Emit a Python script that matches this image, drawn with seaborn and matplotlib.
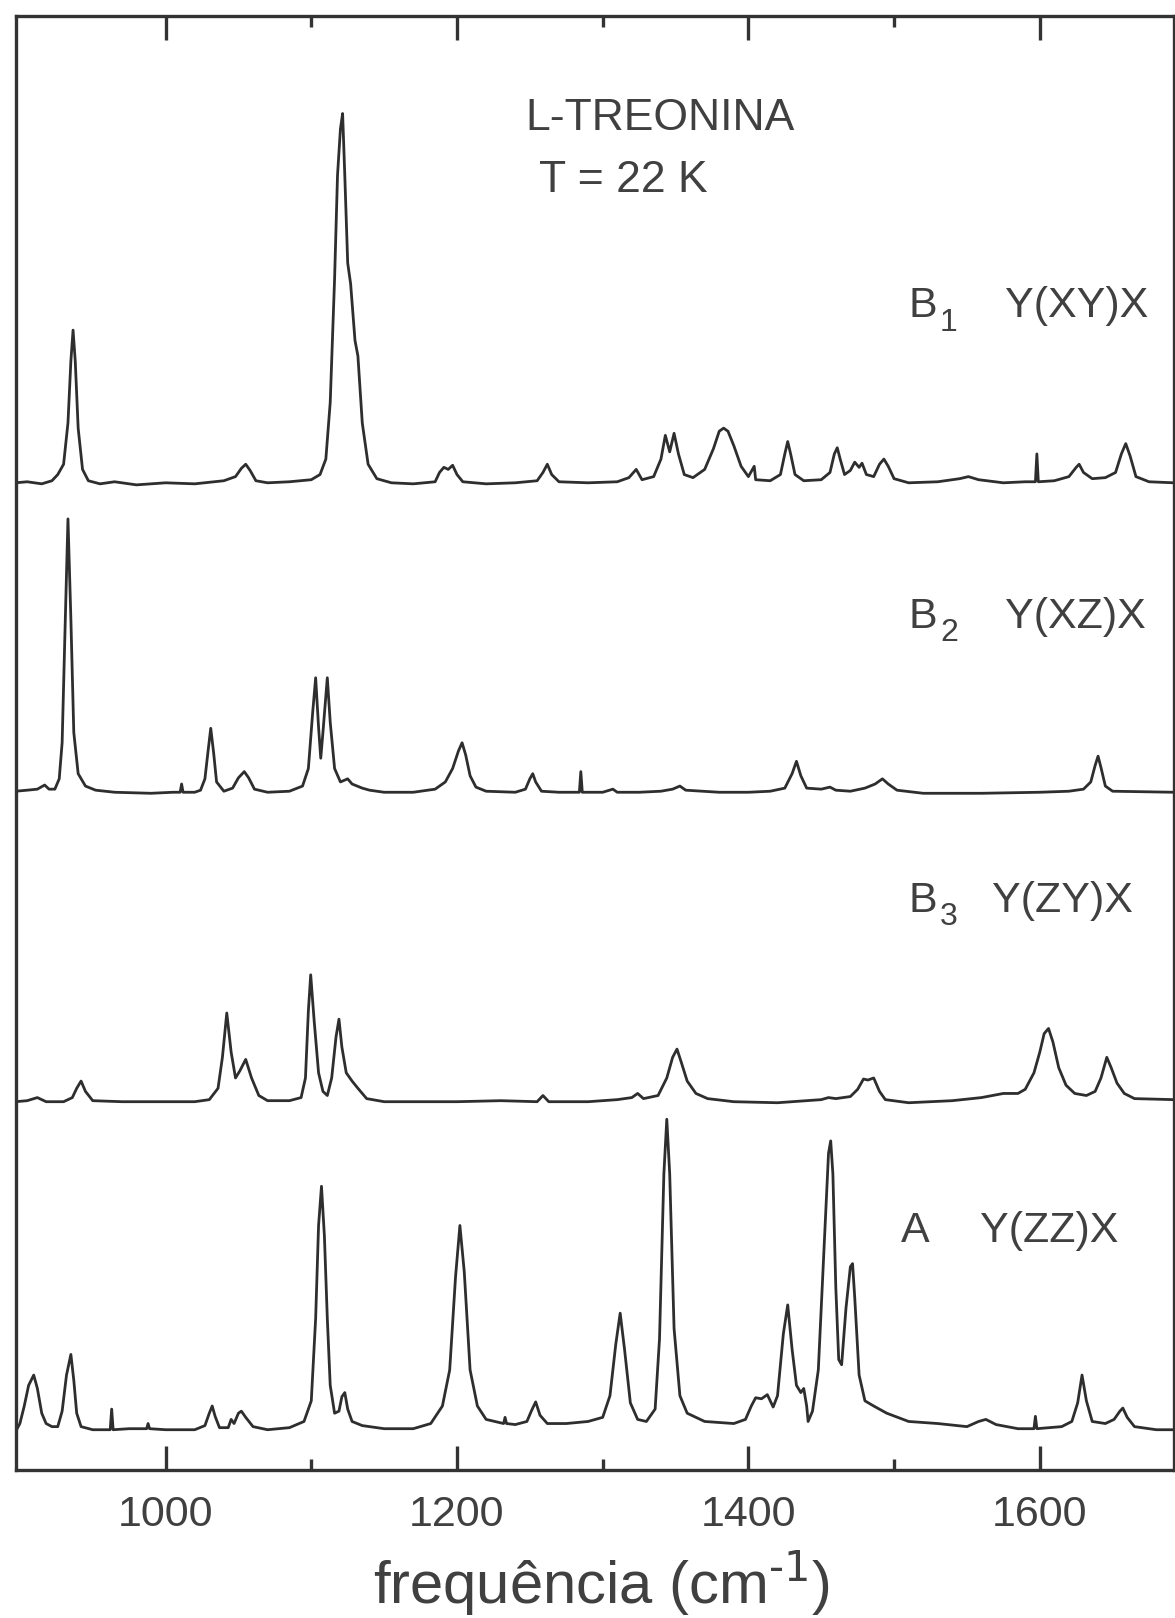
import matplotlib
matplotlib.use("Agg")
import matplotlib.pyplot as plt
import seaborn as sns
import pandas as pd
from matplotlib.ticker import FixedLocator

# Raman spectra of L-threonine at 22 K, four polarisations.
# frequencies (cm-1) and intensities above each trace's own baseline (arb. units)
B1_FREQ = [897, 905, 915, 922, 926, 930, 933, 935, 936.5, 938, 940, 943, 947, 955, 965, 980,
           1000, 1020, 1040, 1048, 1052, 1055, 1058, 1062, 1070, 1085, 1100, 1106, 1110, 1113,
           1116, 1118, 1120, 1121.5, 1123, 1125, 1127, 1130, 1132, 1135, 1139, 1145, 1155, 1170,
           1185, 1188, 1191, 1194, 1197, 1200, 1204, 1220, 1240, 1255, 1259, 1262, 1265, 1270,
           1290, 1310, 1318, 1323, 1327, 1335, 1340, 1343, 1346, 1349, 1352, 1356, 1362, 1370,
           1376, 1380, 1383, 1386, 1390, 1395, 1400, 1404, 1405, 1415, 1422, 1425, 1427, 1429,
           1432, 1438, 1450, 1456, 1459, 1461, 1463, 1466, 1470, 1473, 1476, 1478, 1481, 1486,
           1490, 1493, 1496, 1500, 1510, 1530, 1545, 1551, 1558, 1575, 1590, 1597, 1598, 1599,
           1610, 1620, 1625, 1627, 1630, 1636, 1645, 1652, 1656, 1659, 1662, 1666, 1675, 1692]
B1_INT = [2, 3, 1, 4, 10, 20, 60, 120, 150, 120, 55, 15, 4, 1, 3, 0,
          2, 1, 4, 8, 16, 20, 14, 4, 2, 3, 5, 10, 25, 80,
          200, 300, 345, 360, 300, 215, 195, 140, 125, 60, 20, 6, 2, 1,
          3, 12, 17, 15, 19, 10, 3, 1, 2, 4, 12, 20, 10, 3,
          2, 3, 7, 15, 5, 8, 25, 48, 32, 50, 30, 10, 7, 15,
          35, 52, 55, 52, 38, 18, 8, 18, 5, 4, 10, 30, 42, 30,
          10, 4, 5, 12, 30, 36, 25, 10, 14, 22, 17, 21, 10, 8,
          20, 25, 18, 6, 2, 3, 6, 8, 5, 2, 3, 3, 30, 3,
          4, 8, 17, 20, 12, 6, 7, 12, 30, 40, 28, 8, 3, 2]

B2_FREQ = [897, 905, 912, 917, 920, 924, 927, 929, 931, 933, 935, 937, 940, 945, 952, 965,
           990, 1005, 1010, 1011, 1012, 1020, 1024, 1027, 1029, 1031, 1033, 1035, 1040, 1046,
           1050, 1054, 1057, 1061, 1070, 1085, 1094, 1098, 1101, 1103, 1105, 1106.5, 1108, 1111,
           1113, 1116, 1120, 1125, 1128, 1135, 1140, 1150, 1170, 1185, 1192, 1197, 1201, 1203.5,
           1206, 1209, 1213, 1220, 1240, 1247, 1250, 1252, 1254, 1258, 1270, 1284, 1285, 1286,
           1300, 1307, 1310, 1325, 1340, 1348, 1353, 1357, 1380, 1400, 1415, 1425, 1430, 1433,
           1436, 1440, 1450, 1456, 1460, 1470, 1480, 1487, 1492, 1496, 1502, 1520, 1560, 1600,
           1620, 1630, 1635, 1638, 1640, 1642, 1645, 1650, 1692]
B2_INT = [3, 4, 5, 9, 5, 5, 15, 50, 160, 267, 170, 60, 20, 8, 4, 2,
          1, 2, 2, 10, 2, 2, 4, 15, 40, 64, 40, 12, 3, 6,
          16, 22, 16, 5, 2, 3, 8, 25, 80, 113, 65, 35, 60, 113,
          70, 25, 12, 15, 10, 6, 4, 2, 2, 5, 12, 25, 42, 50,
          38, 18, 7, 3, 2, 5, 15, 20, 12, 3, 2, 2, 22, 2,
          2, 5, 2, 2, 3, 5, 8, 4, 2, 2, 3, 6, 20, 32,
          18, 6, 5, 7, 4, 3, 6, 10, 15, 10, 4, 1, 1, 2,
          3, 5, 12, 28, 37, 26, 8, 3, 2]

B3_FREQ = [897, 905, 912, 918, 930, 936, 939, 942, 945, 950, 970, 1000, 1020, 1030, 1036, 1039,
           1042, 1045, 1048, 1051, 1055, 1059, 1064, 1070, 1085, 1093, 1096, 1098, 1099.6, 1102,
           1105, 1108, 1111, 1114, 1117, 1119, 1121, 1124, 1128, 1132, 1138, 1150, 1180, 1200,
           1230, 1255, 1259, 1263, 1290, 1310, 1320, 1324, 1328, 1338, 1344, 1348, 1351, 1354,
           1358, 1364, 1372, 1390, 1420, 1440, 1450, 1455, 1460, 1470, 1475, 1479, 1482, 1486,
           1490, 1494, 1510, 1540, 1560, 1575, 1585, 1590, 1596, 1600, 1603, 1606, 1609, 1613,
           1618, 1624, 1632, 1638, 1642, 1646, 1649, 1653, 1658, 1665, 1692]
B3_INT = [2, 3, 6, 2, 2, 6, 15, 22, 12, 3, 2, 2, 2, 4, 15, 45,
          88, 50, 25, 32, 43, 25, 8, 3, 3, 6, 25, 90, 125, 80,
          30, 12, 8, 25, 65, 82, 55, 30, 22, 15, 5, 2, 2, 2,
          3, 2, 8, 2, 2, 4, 6, 10, 5, 8, 25, 45, 53, 40,
          22, 10, 5, 2, 1, 3, 4, 6, 5, 7, 14, 24, 23, 25,
          12, 4, 1, 3, 6, 10, 10, 14, 30, 50, 68, 73, 60, 35,
          18, 10, 8, 12, 25, 45, 35, 20, 10, 5, 4]

A_FREQ = [897, 900, 903, 906, 909.5, 912, 915, 918, 922, 926, 929, 932, 935, 937, 939, 942,
          950, 962, 963, 964, 975, 987, 988, 989, 1000, 1020, 1027, 1030, 1032, 1034, 1037, 1043,
          1045, 1047, 1050, 1052, 1055, 1060, 1070, 1085, 1095, 1100, 1103, 1105, 1107, 1109,
          1111, 1113, 1116, 1119, 1121, 1123, 1125, 1128, 1135, 1150, 1170, 1182, 1190, 1195,
          1199, 1202, 1205, 1209, 1214, 1220, 1232, 1233, 1234, 1240, 1248, 1251, 1254, 1257,
          1262, 1275, 1290, 1300, 1305, 1309, 1312, 1315, 1319, 1324, 1330, 1336, 1339, 1342,
          1344, 1346, 1349, 1353, 1358, 1370, 1390, 1398, 1402, 1405, 1409, 1413, 1417, 1420,
          1424, 1427, 1430, 1433, 1436, 1438, 1440, 1441, 1444, 1448, 1452, 1455, 1456.5, 1458,
          1460, 1462, 1464, 1467, 1470, 1471.5, 1473, 1476, 1480, 1486, 1495, 1510, 1530, 1550,
          1558, 1563, 1570, 1585, 1596, 1597, 1598, 1615, 1622, 1626, 1629, 1632, 1636, 1645,
          1651, 1655, 1657, 1660, 1665, 1680, 1692]
A_INT = [0, 8, 25, 45, 55, 42, 18, 8, 5, 5, 20, 55, 75, 50, 18, 5,
         2, 2, 22, 2, 3, 3, 8, 3, 2, 2, 6, 18, 25, 15, 4, 4,
         12, 8, 18, 20, 14, 5, 2, 4, 10, 30, 110, 200, 238, 190,
         110, 45, 18, 20, 34, 38, 22, 10, 6, 3, 3, 8, 25, 60,
         150, 200, 155, 60, 25, 12, 8, 14, 8, 7, 10, 20, 29, 16,
         8, 8, 10, 14, 35, 85, 115, 80, 28, 12, 10, 22, 90, 250,
         303, 250, 100, 35, 18, 10, 8, 12, 25, 33, 32, 36, 24, 35,
         95, 123, 80, 45, 38, 42, 25, 10, 20, 60, 180, 270, 282, 250,
         140, 70, 65, 120, 160, 163, 130, 55, 30, 25, 18, 10, 8, 5,
         10, 12, 7, 3, 3, 15, 3, 5, 10, 28, 55, 30, 10, 8,
         12, 20, 23, 14, 5, 2, 2]

# vertical offsets of the stacked traces
OFFSETS = {"B1": 955, "B2": 655, "B3": 355, "A": 37}
TICKS = [1000, 1200, 1400, 1600]
MINOR_TICKS = [1100, 1300, 1500]

sns.set_theme(style="white")
plt.rcParams["font.family"] = ["Liberation Sans", "DejaVu Sans"]
plt.rcParams["mathtext.default"] = "regular"

ink = "#2e2e2e"
txt = "#404040"

frames = []
for name, f, i in [("B1", B1_FREQ, B1_INT), ("B2", B2_FREQ, B2_INT),
                   ("B3", B3_FREQ, B3_INT), ("A", A_FREQ, A_INT)]:
    d = pd.DataFrame({"freq": f, "inten": i})
    d["y"] = d["inten"] + OFFSETS[name]
    d["modo"] = name
    frames.append(d)
df = pd.concat(frames, ignore_index=True)

fig = plt.figure(figsize=(11.75, 16.18), dpi=100)
ax = fig.add_axes([0.0132, 0.0915, 0.9858, 0.8989])

for name in OFFSETS:
    sns.lineplot(data=df[df["modo"] == name], x="freq", y="y", ax=ax,
                 color=ink, linewidth=2.0, estimator=None, sort=True)

ax.set_xlim(897, 1692)
ax.set_ylim(0, 1410)
ax.set_xlabel("")
ax.set_ylabel("")
ax.set_yticks([])
ax.set_xticks(TICKS)
ax.set_xticklabels([str(t) for t in TICKS])
ax.xaxis.set_minor_locator(FixedLocator(MINOR_TICKS))
ax.tick_params(axis="x", which="both", direction="in", top=True, bottom=True,
               color="#333333", labelcolor=txt)
ax.tick_params(axis="x", which="major", length=17, width=2.4, labelsize=31, pad=18)
ax.tick_params(axis="x", which="minor", length=8, width=2.4)
for s in ax.spines.values():
    s.set_color("#333333")
    s.set_linewidth(2.4)

ax.text(1247, 1310, "L-TREONINA", fontsize=32, color=txt, va="center", ha="left")
ax.text(1256, 1250, "T = 22 K", fontsize=32, color=txt, va="center", ha="left")

# (symbol, subscript, geometry, x symbol, x geometry, y)
labels = [("B", "1", "Y(XY)X", 1510, 1576, 1128),
          ("B", "2", "Y(XZ)X", 1510, 1576, 827),
          ("B", "3", "Y(ZY)X", 1510, 1567, 552),
          ("A", "", "Y(ZZ)X", 1505, 1559, 232)]
for sym, sub, geo, x1, x2, yy in labels:
    ax.text(x1, yy, sym, fontsize=31, color=txt, va="center", ha="left")
    if sub:
        ax.text(x1 + 21.5, yy - 16, sub, fontsize=23, color=txt, va="center", ha="left")
    ax.text(x2, yy, geo, fontsize=31, color=txt, va="center", ha="left")

fig.text(0.512, 0.0215, r"frequência (cm$^{\text{-1}}$)", fontsize=43, color=txt,
         ha="center", va="center")

fig.savefig("out.png", dpi=100, facecolor="white")
